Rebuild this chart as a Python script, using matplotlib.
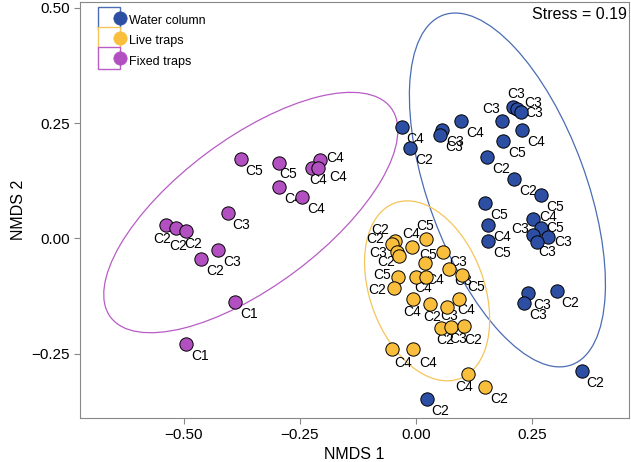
import matplotlib
matplotlib.use("Agg")
import matplotlib.pyplot as plt
from matplotlib.lines import Line2D
from matplotlib.patches import Ellipse
from matplotlib.legend_handler import HandlerTuple
from matplotlib.ticker import FuncFormatter

plt.rcParams["font.family"] = ["Liberation Sans", "DejaVu Sans"]

# ── NMDS scores ──────────────────────────────────────────────────────────────
water_x = [-0.031, -0.013, 0.055, 0.052, 0.098, 0.185, 0.210, 0.218, 0.226, 0.188,
           0.228, 0.154, 0.212, 0.269, 0.149, 0.156, 0.156, 0.253, 0.269, 0.253,
           0.284, 0.260, 0.242, 0.233, 0.303, 0.357, 0.023]
water_y = [0.242, 0.195, 0.235, 0.224, 0.255, 0.255, 0.285, 0.280, 0.275, 0.212,
           0.236, 0.177, 0.129, 0.095, 0.076, 0.029, -0.006, 0.043, 0.022, 0.007,
           0.003, -0.007, -0.119, -0.141, -0.114, -0.289, -0.349]
water_lab = ["C4", "C2", "C3", "C3", "C4", "C3", "C3", "C3", "C3", "C5",
             "C4", "C2", "C2", "C5", "C5", "C4", "C5", "C4", "C5", "C3",
             "C3", "C3", "C3", "C3", "C2", "C2", "C2"]

live_x = [-0.045, -0.052, -0.041, -0.036, -0.009, 0.022, 0.058, 0.019, 0.072, 0.100,
          -0.039, 0.000, 0.022, -0.047, -0.007, 0.030, 0.066, 0.093, 0.054, 0.075,
          0.104, -0.052, -0.006, 0.111, 0.149]
live_y = [-0.005, -0.012, -0.030, -0.038, -0.018, -0.002, -0.029, -0.053, -0.067, -0.080,
          -0.083, -0.085, -0.083, -0.108, -0.131, -0.143, -0.148, -0.132, -0.194, -0.192,
          -0.190, -0.240, -0.240, -0.294, -0.322]
live_lab = ["C2", "C2", "C3", "C2", "C4", "C5", "C3", "C5", "C3", "C5",
            "C5", "C4", "C4", "C2", "C4", "C2", "C3", "C4", "C2", "C3",
            "C2", "C4", "C4", "C4", "C2"]

fixed_x = [-0.378, -0.296, -0.207, -0.225, -0.211, -0.295, -0.246, -0.406, -0.539, -0.517,
           -0.496, -0.427, -0.463, -0.389, -0.495]
fixed_y = [0.172, 0.164, 0.170, 0.152, 0.153, 0.112, 0.090, 0.054, 0.029, 0.023,
           0.016, -0.026, -0.045, -0.138, -0.229]
fixed_lab = ["C5", "C5", "C4", "C4", "C4", "C4", "C4", "C3", "C2", "C2",
             "C2", "C3", "C2", "C1", "C1"]

# 95% group ellipses: centre, semi-axes, angle (deg)
water_ell = [(0.197, 0.105), (0.404, 0.170), 110]
live_ell = [(0.024, -0.114), (0.203, 0.123), 110]
fixed_ell = [(-0.356, 0.056), (0.378, 0.160), 37]

STRESS = 0.19

# ── Styling ──────────────────────────────────────────────────────────────────
GROUPS = [
    ("Water column", water_x, water_y, water_lab, water_ell, "#2c4ea3", "#4a6cb3"),
    ("Live traps",   live_x,  live_y,  live_lab,  live_ell,  "#f8be3c", "#f5c55a"),
    ("Fixed traps",  fixed_x, fixed_y, fixed_lab, fixed_ell, "#b250c1", "#b85cc6"),
]

# label nudges in pixels (right, down); anything not listed uses the default
DEFAULT_NUDGE = (14, 12)
NUDGE = {
    "Water column": {5: (-11, -12), 6: (3, -13), 7: (16, -6), 8: (13, 1),
                     17: (15, -2), 18: (14, 0), 19: (-13, -6), 20: (15, 5), 21: (10, 10)},
    "Live traps": {0: (-15, -11), 1: (-17, -5), 2: (-19, 1), 3: (-13, 6), 4: (-1, -13),
                   5: (-1, -13), 6: (15, 10), 7: (3, -8), 10: (-16, -2), 11: (7, 11),
                   12: (9, 3), 13: (-17, 2), 14: (-1, 13), 15: (2, 13), 16: (3, 9),
                   17: (7, 11), 18: (4, 12), 19: (7, 12), 20: (9, 14), 21: (11, 14),
                   22: (15, 14), 23: (-3, 13)},
    "Fixed traps": {1: (10, 11), 2: (15, -2), 3: (7, 12), 4: (20, 9),
                    8: (-4, 14), 9: (2, 18), 10: (7, 13)},
}

fig = plt.figure(figsize=(6.31, 4.62), dpi=100)
ax = fig.add_axes([80 / 631, 44 / 462, 549 / 631, 416 / 462])

px = 0.72  # points per pixel at 100 dpi
handles = []
for name, xs, ys, labs, ell, fill, line in GROUPS:
    (cx, cy), (a, b), ang = ell
    ax.add_patch(Ellipse((cx, cy), 2 * a, 2 * b, angle=ang, fill=False,
                         edgecolor=line, lw=0.9, zorder=2))
    ax.scatter(xs, ys, s=92, c=fill, edgecolors="black", linewidths=0.7, zorder=4)
    for i, (x, y, lab) in enumerate(zip(xs, ys, labs)):
        dx, dy = NUDGE[name].get(i, DEFAULT_NUDGE)
        ax.annotate(lab, (x, y), xytext=(dx * px, -dy * px), textcoords="offset points",
                    ha="center", va="center", fontsize=10, color="black", zorder=3)
    box = Line2D([], [], marker="s", ms=16, mfc="white", mec=line, mew=1.0, ls="")
    dot = Line2D([], [], marker="o", ms=9.6, mfc=fill, mec=fill, mew=0.5, ls="")
    handles.append((box, dot))

ax.legend(handles, [g[0] for g in GROUPS], handler_map={tuple: HandlerTuple(ndivide=None)},
          loc="upper left", bbox_to_anchor=(0.042, 0.978), frameon=False, fontsize=9,
          borderpad=0, borderaxespad=0, handlelength=1.8, handleheight=1.8,
          labelspacing=0.22, handletextpad=0.3)

ax.text(0.996, 0.969, f"Stress = {STRESS:.2f}", transform=ax.transAxes,
        ha="right", va="center", fontsize=11.5)

ax.set_xlim(-0.724, 0.459)
ax.set_ylim(-0.390, 0.513)
ax.set_xticks([-0.50, -0.25, 0.00, 0.25])
ax.set_yticks([-0.25, 0.00, 0.25, 0.50])
fmt = FuncFormatter(lambda v, _: f"{v:.2f}".replace("-", "\u2212"))
ax.xaxis.set_major_formatter(fmt)
ax.yaxis.set_major_formatter(fmt)
ax.tick_params(length=4, width=0.8, color="#888888", labelsize=11, labelcolor="black")
for sp in ax.spines.values():
    sp.set_color("#888888")
    sp.set_linewidth(0.8)
ax.set_xlabel("NMDS 1", fontsize=11.5, labelpad=3)
ax.set_ylabel("NMDS 2", fontsize=11.5, labelpad=4)

fig.savefig("out.png", dpi=100)
